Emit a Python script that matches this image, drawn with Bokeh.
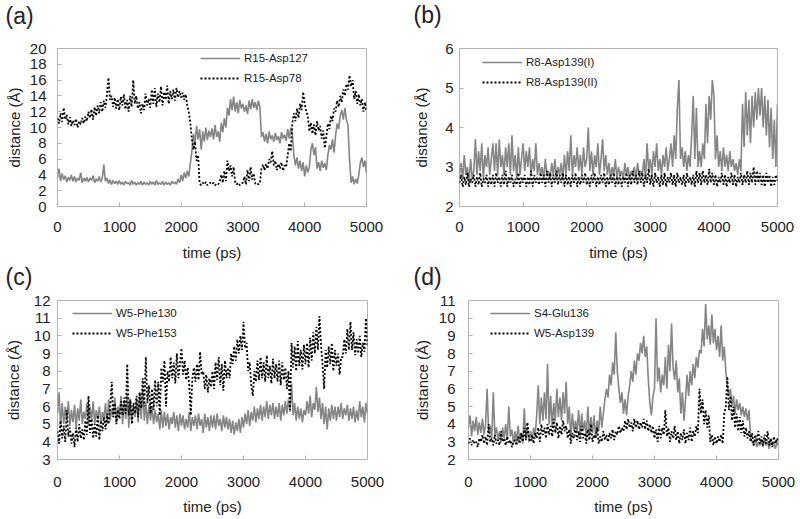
from bokeh.plotting import figure
from bokeh.models import Range1d, FixedTicker, Legend, LegendItem, Title
from bokeh.layouts import column, row
from bokeh.embed import file_html
from bokeh.resources import INLINE

# time axis (ps), sampled every 25 ps
time_ps = list(range(0, 5001, 25))
x_ticks = [0, 1000, 2000, 3000, 4000, 5000]

# ---------------- panel (a) ----------------
a_labels = ["R15-Asp127", "R15-Asp78"]
a_ticks = [0, 2, 4, 6, 8, 10, 12, 14, 16, 18, 20]
a_r15_asp127 = [
    3.6, 4.8, 3.2, 4.2, 3.4, 3.9, 3.1, 3.7, 3.3, 4.0,
    3.2, 3.8, 3.1, 3.6, 3.3, 4.3, 3.0, 3.6, 3.2, 3.7,
    3.1, 3.6, 3.3, 3.9, 3.0, 3.5, 3.2, 3.8, 3.1, 3.6,
    5.3, 3.2, 3.6, 2.9, 3.4, 2.8, 3.3, 2.9, 3.2, 2.8,
    3.3, 2.8, 3.1, 2.7, 3.2, 2.9, 3.0, 2.7, 3.3, 2.8,
    3.1, 2.7, 3.0, 2.8, 3.2, 2.7, 3.1, 2.8, 3.0, 2.7,
    3.2, 2.8, 3.1, 2.7, 3.3, 2.8, 3.0, 2.8, 3.2, 2.7,
    3.1, 2.8, 3.0, 2.7, 3.2, 2.9, 3.1, 2.8, 3.5, 3.0,
    4.0, 3.2, 4.3, 3.6, 4.5, 3.8, 5.5, 7.0, 9.2, 8.0,
    10.2, 8.5, 9.8, 7.2, 9.5, 8.2, 10.0, 8.4, 9.6, 8.8,
    9.9, 8.5, 10.3, 8.8, 9.5, 8.2, 10.6, 9.4, 11.2, 10.0,
    12.5, 11.5, 13.6, 12.2, 13.9, 12.0, 13.2, 11.8, 13.5, 12.4,
    13.0, 12.0, 12.8, 11.7, 13.4, 12.3, 13.6, 12.5, 13.2, 12.2,
    13.4, 12.6, 8.8, 9.4, 8.2, 9.2, 8.0, 9.5, 8.5, 9.0,
    8.2, 9.3, 8.4, 8.9, 8.0, 9.4, 8.6, 9.1, 8.3, 9.8,
    8.6, 10.0, 9.2, 6.5, 5.2, 6.2, 4.8, 5.8, 4.5, 5.6,
    3.8, 5.2, 4.3, 5.0, 7.2, 8.0, 6.5, 7.5, 4.8, 5.6,
    4.5, 5.8, 4.9, 5.5, 4.6, 6.5, 7.8, 7.2, 8.5, 6.8,
    9.0, 10.5, 9.8, 11.5, 12.2, 11.0, 12.5, 11.0, 10.3, 6.0,
    3.0, 3.8, 2.8, 3.5, 2.9, 4.0, 5.5, 6.2, 5.0, 5.8,
    4.2,
]
a_r15_asp78 = [
    11.2, 10.5, 11.8, 10.7, 12.5, 11.0, 11.6, 10.4, 11.3, 10.2,
    10.9, 10.3, 11.1, 10.0, 10.8, 10.4, 11.2, 10.5, 11.4, 10.8,
    12.0, 11.2, 12.3, 11.0, 12.6, 11.5, 12.8, 11.8, 13.2, 12.0,
    13.4, 12.5, 14.2, 16.3, 13.5, 14.0, 12.6, 13.8, 12.4, 13.6,
    12.2, 13.9, 12.8, 14.2, 12.3, 13.5, 12.0, 14.0, 12.6, 16.0,
    13.0, 14.0, 12.4, 13.2, 11.8, 13.0, 12.2, 14.3, 12.8, 13.6,
    12.5, 14.8, 13.0, 15.0, 12.6, 14.3, 13.2, 15.2, 12.8, 14.5,
    13.5, 15.3, 13.0, 14.6, 13.6, 14.8, 13.4, 15.0, 13.8, 14.6,
    13.8, 14.4, 13.5, 14.2, 12.8, 12.0, 10.5, 8.5, 7.2, 8.2,
    5.8, 6.5, 2.9, 2.7, 3.0, 2.8, 3.1, 2.7, 2.9, 3.0,
    2.8, 3.0, 2.7, 2.9, 2.8, 3.1, 4.0, 3.0, 4.5, 3.2,
    5.8, 4.5, 5.2, 3.8, 5.0, 3.0, 2.8, 3.0, 2.7, 2.9,
    3.0, 3.8, 2.8, 4.6, 3.2, 5.0, 3.4, 4.2, 2.9, 3.0,
    2.8, 3.0, 4.8, 5.3, 4.6, 5.4, 4.8, 6.0, 5.6, 7.0,
    5.2, 5.8, 4.6, 5.4, 4.8, 5.6, 4.5, 5.2, 5.0, 6.5,
    8.0, 7.0, 10.5, 11.8, 10.8, 12.4, 11.2, 13.0, 12.2, 14.5,
    13.0, 12.0, 11.5, 9.5, 10.6, 9.2, 10.4, 9.0, 10.8, 9.6,
    10.2, 8.6, 9.6, 7.4, 8.8, 10.5, 9.8, 11.5, 10.8, 12.4,
    12.0, 13.4, 12.6, 14.0, 13.2, 14.8, 14.0, 15.5, 14.8, 16.6,
    15.2, 16.0, 13.6, 14.6, 13.0, 14.2, 12.8, 13.6, 12.0, 13.2,
    12.0,
]

# ---------------- panel (b) ----------------
b_labels = ["R8-Asp139(I)", "R8-Asp139(II)"]
b_ticks = [2, 3, 4, 5, 6]
b_r8_asp139_i = [
    2.8, 3.1, 2.7, 3.3, 2.8, 3.0, 2.6, 3.2, 2.7, 2.9,
    3.7, 2.8, 3.4, 2.9, 3.6, 2.7, 3.3, 3.0, 3.5, 2.8,
    3.2, 3.6, 2.9, 3.6, 2.8, 3.7, 3.0, 3.3, 2.8, 3.5,
    3.0, 3.6, 2.8, 3.8, 2.9, 3.3, 2.7, 3.5, 2.8, 3.2,
    3.6, 2.9, 3.4, 3.0, 3.5, 2.8, 3.2, 2.9, 3.6, 2.8,
    3.1, 2.8, 3.0, 2.7, 3.2, 2.8, 2.9, 2.7, 3.1, 2.8,
    3.2, 2.7, 3.0, 2.8, 3.1, 2.7, 3.3, 2.8, 3.4, 2.9,
    3.8, 2.8, 3.3, 3.0, 3.5, 2.9, 3.3, 2.8, 3.5, 3.0,
    3.2, 4.0, 2.9, 3.4, 2.8, 3.3, 3.0, 3.6, 2.8, 3.2,
    3.7, 2.9, 3.3, 2.8, 3.1, 2.7, 3.0, 2.8, 3.2, 2.7,
    3.0, 2.8, 2.9, 2.7, 3.1, 2.8, 3.0, 2.7, 2.9, 2.8,
    3.0, 2.7, 3.1, 2.8, 2.9, 2.8, 3.2, 2.7, 3.6, 2.9,
    3.2, 2.8, 3.4, 3.0, 3.6, 2.9, 3.2, 2.8, 3.3, 3.0,
    3.5, 2.9, 3.2, 3.6, 3.0, 3.8, 3.2, 4.5, 5.2, 3.2,
    3.5, 3.0, 3.4, 2.9, 3.3, 3.0, 3.8, 4.8, 3.2, 4.5,
    3.0, 3.4, 3.0, 3.6, 3.2, 4.6, 3.6, 4.8, 4.2, 5.2,
    4.8, 3.2, 3.8, 3.0, 3.4, 2.9, 3.5, 3.0, 3.3, 2.9,
    3.4, 3.0, 3.2, 2.9, 3.1, 2.8, 3.2, 2.9, 4.6, 3.5,
    4.9, 3.8, 4.7, 3.6, 4.8, 4.0, 4.9, 4.2, 5.0, 4.3,
    5.0, 4.0, 4.8, 3.8, 4.7, 3.5, 4.5, 3.2, 4.2, 3.0,
    4.6,
]
b_r8_asp139_ii = [
    2.6, 2.8, 2.5, 2.75, 2.55, 2.85, 2.5, 2.7, 2.6, 2.8,
    2.5, 2.75, 2.55, 2.85, 2.5, 2.7, 2.6, 2.8, 2.5, 2.75,
    2.55, 2.8, 2.5, 2.85, 2.6, 2.75, 2.5, 2.8, 2.55, 2.9,
    2.5, 2.75, 2.6, 2.8, 2.5, 2.7, 2.55, 2.85, 2.5, 2.75,
    2.6, 2.8, 2.5, 2.75, 2.55, 2.9, 2.5, 2.8, 2.6, 2.75,
    2.55, 2.85, 2.6, 2.8, 2.5, 2.9, 2.6, 2.85, 2.5, 2.8,
    2.6, 2.9, 2.55, 2.8, 2.6, 2.85, 2.5, 2.8, 2.55, 2.75,
    2.5, 2.8, 2.6, 2.85, 2.5, 2.75, 2.55, 2.8, 2.6, 2.85,
    2.55, 2.75, 2.5, 2.8, 2.6, 2.85, 2.5, 2.75, 2.55, 2.8,
    2.6, 2.85, 2.5, 2.75, 2.55, 2.8, 2.6, 2.85, 2.5, 2.75,
    2.55, 2.8, 2.5, 2.75, 2.6, 2.85, 2.5, 2.8, 2.55, 2.9,
    2.6, 2.8, 2.55, 2.9, 2.6, 2.85, 2.5, 2.8, 2.6, 2.95,
    2.55, 2.8, 2.5, 2.85, 2.6, 2.75, 2.5, 2.8, 2.55, 2.85,
    2.5, 2.75, 2.6, 2.85, 2.55, 2.8, 2.5, 2.85, 2.6, 2.75,
    2.55, 2.8, 2.5, 2.85, 2.6, 2.75, 2.55, 2.8, 2.5, 2.9,
    2.6, 2.85, 2.55, 2.9, 2.6, 2.8, 2.55, 2.95, 2.6, 2.85,
    2.55, 2.8, 2.5, 2.75, 2.6, 2.85, 2.55, 2.8, 2.5, 2.75,
    2.6, 2.85, 2.55, 2.8, 2.5, 2.75, 2.6, 2.85, 2.55, 2.8,
    2.6, 2.9, 2.55, 2.85, 2.6, 3.0, 2.55, 2.9, 2.6, 2.85,
    2.55, 2.8, 2.5, 2.85, 2.6, 2.8, 2.5, 2.75, 2.55, 2.8,
    2.65,
]

# ---------------- panel (c) ----------------
c_labels = ["W5-Phe130", "W5-Phe153"]
c_ticks = [3, 4, 5, 6, 7, 8, 9, 10, 11, 12]
c_w5_phe130 = [
    5.6, 6.8, 4.9, 6.2, 5.0, 6.0, 5.2, 6.3, 4.9, 5.8,
    5.1, 6.1, 4.8, 5.9, 5.2, 6.4, 5.0, 5.7, 5.3, 6.2,
    4.9, 6.0, 5.2, 6.3, 5.0, 5.8, 5.3, 6.0, 5.0, 5.7,
    5.3, 6.2, 5.0, 6.4, 5.2, 5.9, 5.4, 6.5, 5.1, 6.0,
    5.5, 6.6, 5.0, 6.2, 5.3, 6.7, 4.8, 6.3, 5.2, 6.0,
    5.4, 6.4, 5.1, 6.8, 5.3, 7.0, 5.2, 6.2, 5.0, 6.1,
    5.2, 6.0, 5.0, 5.8, 5.1, 5.6, 4.7, 5.8, 4.8, 5.7,
    4.9, 5.6, 4.7, 5.4, 5.0, 5.7, 4.8, 5.5, 4.6, 5.6,
    4.9, 5.5, 4.7, 5.3, 4.8, 5.7, 4.6, 5.4, 4.9, 5.5,
    4.7, 5.6, 4.9, 5.3, 4.5, 5.6, 4.8, 5.4, 4.6, 5.5,
    4.8, 5.5, 4.7, 5.6, 4.9, 5.3, 4.6, 5.5, 4.8, 5.4,
    4.7, 5.3, 4.5, 5.2, 4.4, 5.1, 4.6, 5.3, 4.5, 5.4,
    4.8, 5.6, 5.0, 5.8, 4.9, 5.7, 5.2, 6.0, 5.1, 5.9,
    5.3, 6.1, 5.2, 6.0, 5.4, 6.3, 5.3, 6.1, 5.5, 6.2,
    5.3, 6.0, 5.4, 6.2, 5.2, 6.1, 5.5, 6.3, 5.6, 6.4,
    5.7, 7.3, 5.5, 6.2, 5.2, 6.0, 5.3, 5.9, 5.1, 5.8,
    5.5, 6.3, 5.6, 6.6, 5.4, 6.2, 5.8, 7.1, 5.7, 6.5,
    5.3, 6.2, 5.0, 6.0, 4.7, 5.9, 5.2, 6.1, 5.3, 6.0,
    5.2, 6.0, 5.4, 6.2, 5.3, 5.9, 5.5, 6.1, 5.2, 5.9,
    5.3, 6.0, 5.1, 5.8, 5.2, 6.3, 5.4, 6.0, 5.1, 6.2,
    5.6,
]
c_w5_phe153 = [
    4.6, 3.9, 5.2, 4.2, 4.9, 4.0, 5.8, 4.3, 4.8, 3.9,
    4.5, 3.7, 4.8, 4.0, 5.0, 4.2, 4.7, 4.1, 5.2, 4.4,
    6.6, 4.5, 5.3, 4.2, 5.0, 4.3, 5.5, 4.1, 5.2, 4.6,
    5.4, 4.7, 5.6, 5.0, 6.0, 7.4, 5.4, 6.2, 5.0, 5.8,
    5.3, 6.3, 5.5, 6.5, 5.6, 8.4, 5.5, 6.4, 5.0, 6.2,
    5.6, 6.6, 5.4, 6.8, 5.9, 7.6, 6.0, 8.8, 6.2, 7.2,
    5.6, 7.0, 5.8, 7.5, 6.0, 7.4, 5.5, 8.2, 7.4, 8.6,
    6.0, 8.0, 7.4, 8.8, 7.6, 8.5, 7.3, 9.0, 7.6, 8.4,
    9.3, 7.8, 8.6, 7.5, 8.2, 7.2, 5.5, 7.6, 8.2, 7.4,
    8.4, 7.5, 9.1, 7.8, 8.0, 7.0, 7.8, 6.8, 7.6, 7.1,
    8.0, 7.0, 8.5, 7.5, 8.8, 7.2, 8.4, 6.9, 8.6, 7.6,
    8.2, 7.6, 9.0, 8.4, 9.4, 8.6, 9.8, 9.0, 10.0, 9.2,
    10.8, 9.3, 9.6, 8.0, 8.5, 7.2, 6.6, 8.0, 7.4, 8.6,
    7.5, 8.8, 7.6, 8.5, 7.4, 8.9, 7.6, 8.3, 7.3, 8.7,
    7.6, 8.4, 7.4, 8.6, 7.2, 8.5, 7.5, 8.2, 7.0, 8.0,
    5.8, 9.6, 8.2, 9.4, 8.0, 9.7, 8.3, 9.2, 8.1, 9.5,
    8.4, 9.6, 8.2, 9.9, 8.6, 10.2, 9.0, 10.5, 9.2, 11.1,
    9.5, 8.4, 7.0, 9.2, 8.2, 9.4, 8.4, 9.6, 8.0, 9.2,
    8.3, 9.0, 7.8, 8.8, 8.8, 9.8, 9.0, 10.4, 9.2, 10.8,
    9.2, 10.2, 8.9, 9.8, 9.0, 10.0, 8.8, 9.6, 9.1, 11.0,
    9.4,
]

# ---------------- panel (d) ----------------
d_labels = ["S4-Glu136", "W5-Asp139"]
d_ticks = [2, 3, 4, 5, 6, 7, 8, 9, 10, 11]
d_s4_glu136 = [
    3.8, 4.5, 3.3, 4.2, 3.6, 4.4, 3.4, 4.1, 3.5, 4.3,
    3.4, 4.0, 6.0, 3.5, 3.9, 3.2, 5.8, 3.4, 3.8, 3.1,
    3.6, 3.0, 3.8, 3.2, 4.0, 3.1, 5.0, 3.3, 3.7, 2.9,
    3.6, 3.0, 3.9, 3.1, 3.5, 2.9, 4.9, 3.2, 3.8, 3.0,
    3.6, 3.1, 3.8, 3.3, 4.5, 6.2, 4.0, 5.5, 4.2, 5.8,
    4.3, 7.4, 4.0, 5.6, 3.8, 5.2, 4.2, 6.0, 4.4, 5.5,
    4.2, 5.8, 4.6, 6.4, 4.0, 5.0, 3.2, 4.6, 3.6, 4.2,
    3.5, 4.8, 3.3, 4.6, 3.6, 4.2, 3.2, 5.0, 3.4, 4.4,
    3.5, 4.5, 3.2, 4.2, 3.6, 5.0, 3.8, 4.6, 5.4, 6.0,
    5.5, 6.8, 6.2, 7.5, 6.8, 9.2, 7.0, 6.0, 5.2, 5.8,
    4.6, 5.4, 4.5, 5.6, 6.2, 7.0, 6.4, 7.6, 6.8, 8.0,
    7.6, 8.6, 8.0, 9.0, 7.8, 8.4, 6.5, 5.2, 4.5, 5.6,
    6.0, 10.0, 6.4, 7.2, 5.8, 6.8, 6.2, 7.8, 6.0, 8.5,
    7.0, 9.7, 7.2, 6.5, 7.6, 5.8, 6.6, 4.6, 5.8, 4.2,
    5.4, 6.8, 5.6, 7.0, 6.2, 7.4, 6.6, 7.8, 7.2, 8.2,
    8.0, 9.4, 8.4, 10.8, 8.8, 9.6, 8.5, 10.2, 8.6, 9.4,
    8.2, 9.0, 7.8, 9.6, 7.6, 8.4, 7.0, 6.2, 5.6, 6.0,
    5.0, 5.6, 4.6, 5.4, 4.8, 5.2, 4.5, 5.0, 4.4, 4.9,
    4.2, 4.8, 3.2, 3.0, 2.8, 3.2, 2.7, 3.0, 2.8, 3.1,
    2.7, 3.2, 2.8, 3.0, 2.6, 3.1, 2.8, 2.9, 2.6, 3.0,
    2.8,
]
d_w5_asp139 = [
    2.9, 3.2, 2.8, 3.1, 2.9, 3.0, 2.7, 3.2, 3.0, 3.4,
    2.9, 3.3, 2.8, 4.0, 3.0, 3.2, 2.8, 3.4, 2.9, 3.1,
    2.8, 3.6, 3.0, 3.2, 2.8, 3.3, 2.9, 3.1, 2.7, 3.0,
    3.1, 2.8, 3.3, 2.9, 3.5, 3.0, 3.8, 3.1, 4.1, 3.2,
    3.0, 3.4, 2.9, 3.5, 3.2, 3.8, 3.0, 4.0, 3.4, 3.8,
    3.2, 4.0, 3.4, 3.9, 3.3, 4.3, 3.5, 4.1, 3.2, 3.9,
    3.4, 4.2, 3.6, 3.9, 3.2, 3.7, 2.9, 3.5, 3.2, 3.8,
    3.1, 3.6, 3.0, 3.9, 3.2, 3.5, 2.9, 3.7, 3.1, 4.0,
    3.0, 3.4, 3.2, 3.8, 2.9, 3.3, 3.0, 3.6, 3.1, 3.4,
    3.0, 3.5, 3.2, 3.7, 3.1, 3.6, 3.4, 3.9, 3.5, 3.8,
    3.6, 4.2, 3.7, 4.3, 3.8, 4.1, 3.6, 4.3, 3.8, 4.2,
    3.7, 4.1, 3.8, 4.3, 3.7, 4.2, 3.6, 4.0, 3.5, 3.9,
    3.2, 3.7, 3.0, 3.9, 3.2, 3.8, 3.4, 4.8, 3.3, 3.8,
    3.0, 3.6, 3.2, 3.9, 3.1, 3.6, 2.9, 3.5, 3.1, 3.7,
    2.9, 3.5, 3.1, 3.8, 3.0, 3.6, 3.3, 3.9, 3.5, 6.0,
    4.6, 5.4, 4.0, 4.8, 3.8, 4.5, 3.0, 3.4, 2.8, 3.3,
    2.9, 3.3, 3.0, 3.4, 2.9, 4.6, 5.0, 6.7, 4.8, 5.6,
    4.2, 5.0, 3.8, 4.6, 3.6, 4.4, 3.5, 4.2, 3.3, 3.8,
    3.2, 3.6, 3.0, 3.5, 2.8, 3.4, 3.0, 3.6, 2.9, 3.3,
    2.8, 3.4, 2.9, 3.6, 2.8, 3.2, 2.7, 3.3, 2.9, 3.2,
    3.0,
]

FONT = "Liberation Sans"
GRAY = "#858585"
FRAME = "#b4b4b4"
TEXT = "#222222"


def panel(width, height, borders, yrange, yticks, gray_y, black_y, labels,
          leg_xy, tag, tag_offset, spacer, ytick_sd, ylab_sd, xtick_sd, xlab_sd):
    left, right, top, bottom = borders
    p = figure(width=width, height=height, output_backend="svg",
               toolbar_location=None,
               x_range=Range1d(0, 5000), y_range=Range1d(*yrange),
               min_border_left=left, min_border_right=right,
               min_border_top=top, min_border_bottom=bottom)
    p.xgrid.visible = False
    p.ygrid.visible = False
    p.outline_line_color = FRAME
    p.outline_line_width = 1
    p.background_fill_color = "white"
    p.border_fill_color = "white"

    # main title = panel tag (outermost)
    p.title.text = tag
    p.title.text_font = FONT
    p.title.text_font_size = "23px"
    p.title.text_font_style = "normal"
    p.title.text_color = TEXT
    p.title.align = "left"
    p.title.vertical_align = "top"
    p.title.offset = tag_offset
    p.title.standoff = 0
    # empty spacer title, stacked between the tag and the frame
    p.add_layout(Title(text=" ", text_font_size="1px", standoff=spacer),
                 "above")

    n = min(len(time_ps), len(gray_y), len(black_y))
    r1 = p.line(time_ps[:n], gray_y[:n], line_color=GRAY, line_width=1.6)
    r2 = p.line(time_ps[:n], black_y[:n], line_color="black",
                line_width=1.8, line_dash="2 2")

    p.xaxis.ticker = FixedTicker(ticks=x_ticks)
    p.yaxis.ticker = FixedTicker(ticks=yticks)
    p.xaxis.axis_label = "time (ps)"
    p.yaxis.axis_label = "distance (Å)"
    for ax in (p.xaxis[0], p.yaxis[0]):
        ax.axis_line_color = None
        ax.major_tick_in = 4
        ax.major_tick_out = 0
        ax.major_tick_line_color = FRAME
        ax.minor_tick_line_color = None
        ax.major_label_text_font = FONT
        ax.major_label_text_font_size = "15px"
        ax.major_label_text_color = TEXT
        ax.axis_label_text_font = FONT
        ax.axis_label_text_font_size = "15px"
        ax.axis_label_text_font_style = "normal"
        ax.axis_label_text_color = TEXT
    p.yaxis.major_label_standoff = ytick_sd
    p.yaxis.axis_label_standoff = ylab_sd
    p.xaxis.major_label_standoff = xtick_sd
    p.xaxis.axis_label_standoff = xlab_sd

    leg = Legend(items=[LegendItem(label=labels[0], renderers=[r1]),
                        LegendItem(label=labels[1], renderers=[r2])],
                 location=leg_xy, orientation="vertical",
                 border_line_color=None, background_fill_alpha=0,
                 padding=0, margin=0, spacing=0,
                 glyph_width=40, glyph_height=20, label_height=20,
                 label_standoff=4, label_text_font=FONT,
                 label_text_font_size="11.5px", label_text_color=TEXT)
    p.add_layout(leg)
    return p


TOP_H = 263
BOT_H = 519 - TOP_H

pa = panel(400, TOP_H, (57, 34, 47, TOP_H - 207), (0, 20), a_ticks,
           a_r15_asp127, a_r15_asp78, a_labels, (143, 118), "(a)", -52, 15,
           11, 4, 15, 9)
pb = panel(400, TOP_H, (59, 23, 48, TOP_H - 208), (2, 6), b_ticks,
           b_r8_asp139_i, b_r8_asp139_ii, b_labels, (23, 114), "(b)", -46, 16,
           6, 12, 15, 9)
pc = panel(400, BOT_H, (57, 33, 297 - TOP_H, 60), (3, 12), c_ticks,
           c_w5_phe130, c_w5_phe153, c_labels, (15, 116), "(c)", -52, 6,
           7, 9, 17, 8)
pd = panel(400, BOT_H, (68, 22, 297 - TOP_H, 60), (2, 11), d_ticks,
           d_s4_glu136, d_w5_asp139, d_labels, (22, 116), "(d)", -55, 6,
           13, 5, 17, 8)

layout = column(row(pa, pb), row(pc, pd))

with open("out.html", "w") as f:
    f.write(file_html(layout, INLINE))
